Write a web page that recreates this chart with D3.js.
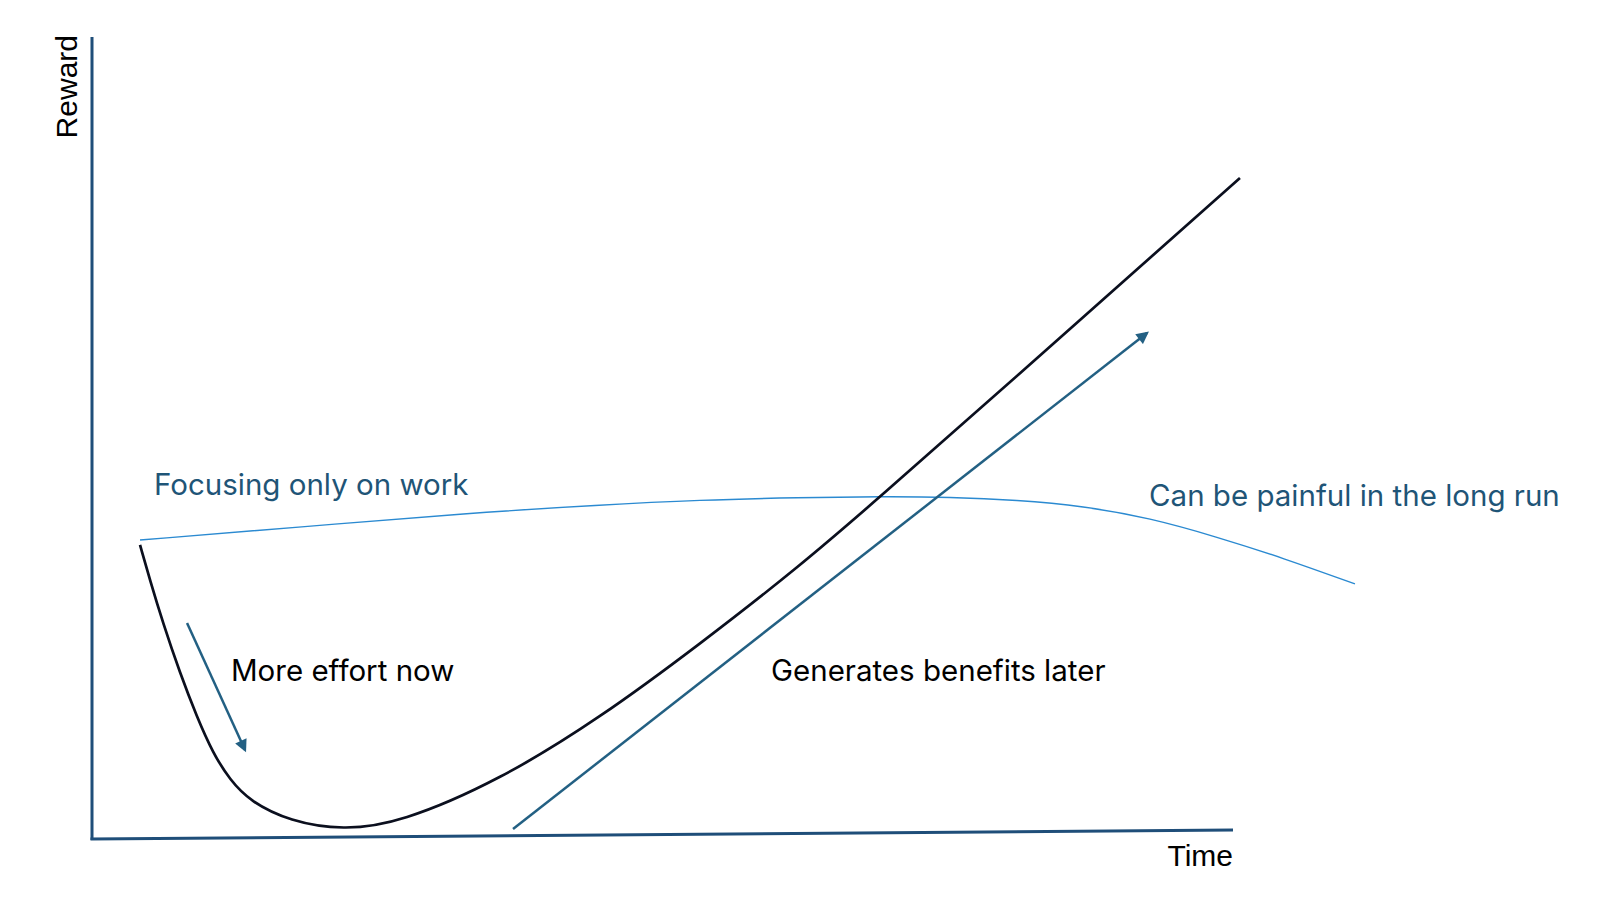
<html>
<head>
<meta charset="utf-8">
<title>effort vs reward</title>
<script src="https://d3js.org/d3.v7.min.js"></script>
<style>
	body{margin:0;background:#fff;}
	.lbl{font-family:Inter,"Open Sans",sans-serif;font-size:29.5px;}
	.axtitle{font-family:"Liberation Sans",Arial,sans-serif;font-size:30px;fill:#000;}
</style>
</head>
<body>
<script>
var w = 1600, h = 907;

// curves in chart units (x: time 0..100, y: reward 0..100)
var effortX  = [4.21, 5.08, 6.22, 7.71, 9.20, 10.60, 12.09, 13.85, 17.35, 22.0, 26.99, 35.76, 44.52, 53.29, 62.05, 69.06, 79.58, 100.61];
var effortY  = [36.66, 32.29, 26.93, 20.70, 15.21, 10.72, 7.36, 4.7, 2.2, 1.1, 2.0, 7.36, 15.09, 24.31, 34.04, 42.64, 55.86, 82.42];
var workX    = [4.21, 18.23, 33.13, 44.52, 53.29, 62.05, 69.33, 75.2, 81.07, 86.85, 92.73, 98.6, 104.38, 110.69];
var workY    = [37.28, 38.9, 40.65, 41.65, 42.27, 42.58, 42.71, 42.64, 42.27, 41.52, 40.02, 37.66, 35.04, 31.8];
// arrows [x1,y1,x2,y2]
var arrows   = [[8.33, 26.93, 13.41, 11.1], [36.9, 1.25, 92.46, 63.09]];
// x axis runs slightly uphill
var xAxisEnd = [100, 1.12];
var labels   = ["Focusing only on work", "More effort now", "Generates benefits later", "Can be painful in the long run"];
var labelX   = [5.43, 12.18, 59.51, 92.64];
var labelY   = [42.89, 19.7, 19.75, 41.52];
var labelCol = ["#1f5577", "#000", "#000", "#1f5577"];

var x = d3.scaleLinear().domain([0, 100]).range([92, 1233]);
var y = d3.scaleLinear().domain([0, 100]).range([839, 37]);

var svg = d3.select("body").append("svg")
	.attr("width", w)
	.attr("height", h);

svg.append("defs").append("marker")
	.attr("id", "head")
	.attr("viewBox", "0 0 10 10")
	.attr("refX", 8).attr("refY", 5)
	.attr("markerWidth", 5.5).attr("markerHeight", 5)
	.attr("orient", "auto")
	.append("path")
	.attr("d", "M0,0 L10,5 L0,10 z")
	.attr("fill", "#236083");

// basis keeps the hand-read points from wobbling
var line = d3.line()
	.x(function(d){ return x(d[0]); })
	.y(function(d){ return y(d[1]); })
	.curve(d3.curveBasis);

// axes
svg.append("line")
	.attr("x1", x(0)).attr("y1", y(0) + 1)
	.attr("x2", x(0)).attr("y2", y(100))
	.attr("stroke", "#1f4e79").attr("stroke-width", 3);
svg.append("line")
	.attr("x1", x(0) - 1.5).attr("y1", y(0))
	.attr("x2", x(xAxisEnd[0])).attr("y2", y(xAxisEnd[1]))
	.attr("stroke", "#1f4e79").attr("stroke-width", 3);

svg.append("text")
	.attr("class", "axtitle")
	.attr("transform", "translate(" + (x(0) - 15) + "," + (y(100) - 2) + ") rotate(-90)")
	.attr("text-anchor", "end")
	.text("Reward");
svg.append("text")
	.attr("class", "axtitle")
	.attr("x", x(100)).attr("y", y(0) + 27)
	.attr("text-anchor", "end")
	.text("Time");

// focusing only on work
svg.append("path")
	.datum(d3.zip(workX, workY))
	.attr("d", line)
	.attr("fill", "none")
	.attr("stroke", "#2b8ad1")
	.attr("stroke-width", 1.4);

// balanced effort curve
svg.append("path")
	.datum(d3.zip(effortX, effortY))
	.attr("d", line)
	.attr("fill", "none")
	.attr("stroke", "#0b0f1e")
	.attr("stroke-width", 2.7);

svg.selectAll("line.arrow")
	.data(arrows)
	.enter()
	.append("line")
	.attr("class", "arrow")
	.attr("x1", function(d){ return x(d[0]); })
	.attr("y1", function(d){ return y(d[1]); })
	.attr("x2", function(d){ return x(d[2]); })
	.attr("y2", function(d){ return y(d[3]); })
	.attr("stroke", "#236083")
	.attr("stroke-width", 2.5)
	.attr("marker-end", "url(#head)");

svg.selectAll("text.lbl")
	.data(labels)
	.enter()
	.append("text")
	.attr("class", "lbl")
	.attr("x", function(d, i){ return x(labelX[i]); })
	.attr("y", function(d, i){ return y(labelY[i]); })
	.attr("fill", function(d, i){ return labelCol[i]; })
	.text(function(d){ return d; });
</script>
</body>
</html>
